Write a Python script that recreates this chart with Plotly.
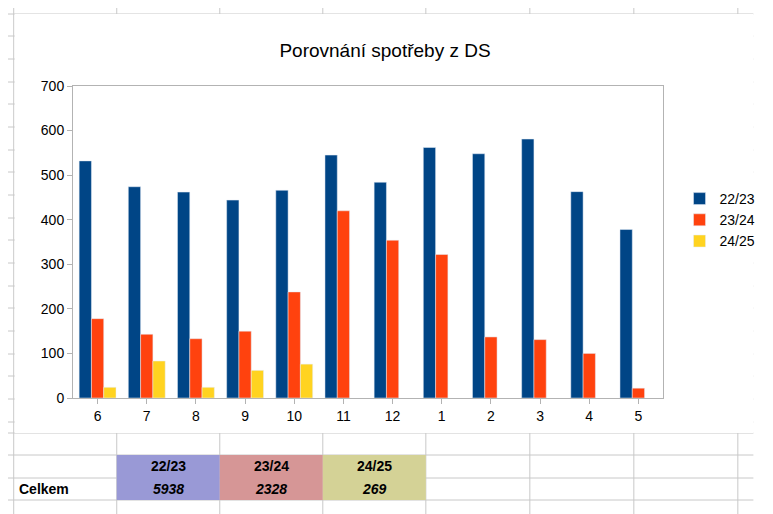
import plotly.graph_objects as go

months = ["6", "7", "8", "9", "10", "11", "12", "1", "2", "3", "4", "5"]
s2223 = [532, 474, 462, 444, 466, 545, 484, 562, 548, 581, 463, 378]
s2324 = [178, 143, 133, 150, 238, 420, 354, 322, 137, 131, 100, 22]
s2425 = [24, 83, 24, 62, 76, None, None, None, None, None, None, None]
seasons = ["22/23", "23/24", "24/25"]
totals = ["5938", "2328", "269"]

# the page puts the figure 8px from the top-left corner
O = 8
W, H = 773 - O, 514 - O
L, R, T, B = 73 - O, 93, 86 - O, 116
pw, ph = W - L - R, H - T - B


def px(x):
    return (x - O - L) / pw


def py(y):
    return (H - B - (y - O)) / ph


fig = go.Figure()
fig.add_trace(go.Bar(x=months, y=s2223, name="22/23", marker_color="#004586"))
fig.add_trace(go.Bar(x=months, y=s2324, name="23/24", marker_color="#ff420e"))
fig.add_trace(go.Bar(x=months, y=s2425, name="24/25", marker_color="#ffd320"))

shapes = []
grid = dict(color="#c8c8c8", width=1)
# spreadsheet grid behind the chart
for gx in [12, 118, 224, 330, 436, 543, 650, 757]:
    shapes.append(dict(type="line", xref="paper", yref="paper", x0=px(gx), x1=px(gx),
                       y0=py(0), y1=py(514), line=grid, layer="below"))
for gy in [14, 36, 59, 82, 104, 127, 150, 172, 195, 218, 240, 263, 286, 308, 331,
           354, 376, 399, 422, 433, 455, 478, 500]:
    shapes.append(dict(type="line", xref="paper", yref="paper", x0=px(0), x1=px(773),
                       y0=py(gy), y1=py(gy), line=grid, layer="below"))
# white chart area
shapes.append(dict(type="rect", xref="paper", yref="paper", x0=px(13), x1=px(773),
                   y0=py(433), y1=py(14), fillcolor="white", line_width=0, layer="below"))
# table cells
colors = ["#9999d6", "#d69696", "#d4d296"]
for i, c in enumerate(colors):
    shapes.append(dict(type="rect", xref="paper", yref="paper", x0=px(118 + 106 * i),
                       x1=px(224 + 106 * i), y0=py(500), y1=py(455), fillcolor=c,
                       line_width=0, layer="below"))

annotations = [dict(text="<b>Celkem</b>", x=px(15), y=py(489), xref="paper", yref="paper",
                    showarrow=False, xanchor="left", yanchor="middle",
                    font=dict(size=14, color="black"))]
for i, (s, t) in enumerate(zip(seasons, totals)):
    cx = px(171 + 106 * i)
    annotations.append(dict(text="<b>" + s + "</b>", x=cx, y=py(466), xref="paper",
                            yref="paper", showarrow=False, xanchor="center",
                            yanchor="middle", font=dict(size=14, color="black")))
    annotations.append(dict(text="<b><i>" + t + "</i></b>", x=cx, y=py(489), xref="paper",
                            yref="paper", showarrow=False, xanchor="center",
                            yanchor="middle", font=dict(size=14, color="black")))

fig.update_layout(
    width=W, height=H,
    margin=dict(l=L, r=R, t=T, b=B),
    paper_bgcolor="white", plot_bgcolor="white",
    font=dict(family="Liberation Sans, Arial", size=14, color="black"),
    title=dict(text="Porovnání spotřeby z DS", x=px(394), xref="paper", xanchor="center",
               y=1 - (50 - O) / H, yanchor="middle", font=dict(size=19)),
    barmode="group", bargap=0.25, bargroupgap=0.0,
    xaxis=dict(showline=True, linecolor="#b3b3b3", mirror=True, ticks="outside",
               tickcolor="#b3b3b3", showgrid=False),
    yaxis=dict(range=[0, 700], dtick=100, showline=True, linecolor="#b3b3b3", mirror=True,
               ticks="outside", tickcolor="#b3b3b3", showgrid=False),
    legend=dict(x=px(697), y=py(220), xanchor="left", yanchor="middle",
                bgcolor="rgba(0,0,0,0)", font=dict(size=14)),
    shapes=shapes, annotations=annotations,
)

fig.write_html("out.html")
